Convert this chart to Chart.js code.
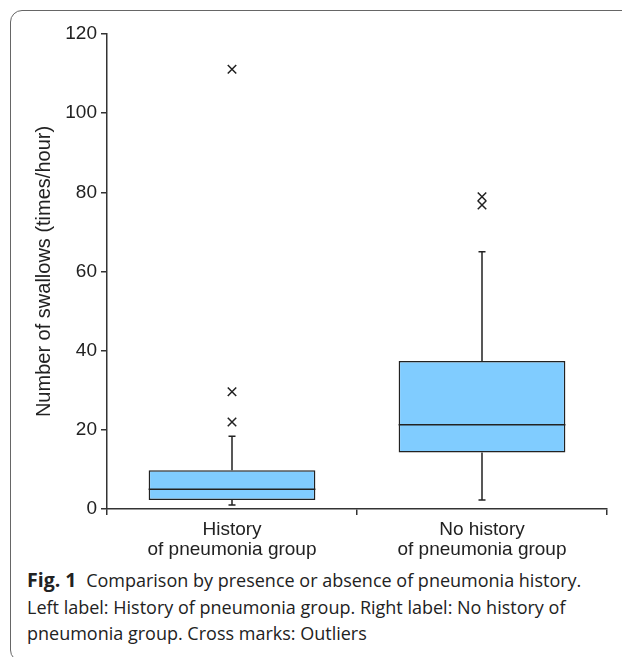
<!DOCTYPE html>
<html>
<head>
<meta charset="utf-8">
<script src="https://cdn.jsdelivr.net/npm/chart.js@4.4.1/dist/chart.umd.min.js"></script>
<style>
  html, body { margin: 0; padding: 0; background: #fff; overflow: hidden; }
  #wrap { position: relative; width: 622px; height: 657px; overflow: hidden; }
  #frame {
    position: absolute; left: 10px; top: 10px; width: 660px; height: 652px;
    border: 1.5px solid #666; border-radius: 12px; box-sizing: border-box;
  }
  #chart { position: absolute; left: 0; top: 0; }
  #caption {
    position: absolute; left: 27px; top: 567px; white-space: nowrap;
    font-family: "Open Sans", sans-serif; font-size: 18px; line-height: 26.5px; color: #222;
  }
  #caption b { font-weight: 700; font-size: 19.5px; margin-right: 5px; }
</style>
</head>
<body>
<div id="wrap">
  <div id="frame"></div>
  <canvas id="chart" width="622" height="565"></canvas>
  <div id="caption"><b>Fig. 1</b> Comparison by presence or absence of pneumonia history.<br>Left label: History of pneumonia group. Right label: No history of<br>pneumonia group. Cross marks: Outliers</div>
</div>
<script>
/********** DATA **********/

const groupLabels = [['History', 'of pneumonia group'], ['No history', 'of pneumonia group']];
const q1Values = [2.3, 14.3];
const q3Values = [9.8, 37.4];
const medianValues = [5.0, 21.3];
const whiskerLow = [1.0, 2.3];
const whiskerHigh = [18.4, 65.0];
const outlierGroup = [0, 0, 0, 1, 1];
const outlierValues = [111.1, 29.6, 22.0, 78.9, 76.8];
const yTickStep = 20;
const yMin = 0;
const yMax = 120;

const axisFont = "'Liberation Sans', Arial, sans-serif";

/********** WHISKERS + MEDIAN **********/

const whiskerPlugin = {
    id: 'whiskers',
    afterDatasetsDraw(chart) {
        const ctx = chart.ctx;
        const x = chart.scales.x;
        const y = chart.scales.y;
        const meta = chart.getDatasetMeta(1); // the box (bar) dataset
        ctx.save();
        ctx.strokeStyle = '#222';
        ctx.lineWidth = 1.5;
        meta.data.forEach((bar, i) => {
            const cx = x.getPixelForValue(i);
            const half = bar.width / 2;
            const cap = 3.5;
            ctx.beginPath();
            // upper whisker
            ctx.moveTo(cx, y.getPixelForValue(q3Values[i]));
            ctx.lineTo(cx, y.getPixelForValue(whiskerHigh[i]));
            ctx.moveTo(cx - cap, y.getPixelForValue(whiskerHigh[i]));
            ctx.lineTo(cx + cap, y.getPixelForValue(whiskerHigh[i]));
            // lower whisker
            ctx.moveTo(cx, y.getPixelForValue(q1Values[i]));
            ctx.lineTo(cx, y.getPixelForValue(whiskerLow[i]));
            ctx.moveTo(cx - cap, y.getPixelForValue(whiskerLow[i]));
            ctx.lineTo(cx + cap, y.getPixelForValue(whiskerLow[i]));
            // median
            ctx.moveTo(cx - half, y.getPixelForValue(medianValues[i]));
            ctx.lineTo(cx + half, y.getPixelForValue(medianValues[i]));
            ctx.stroke();
        });
        ctx.restore();
    }
};

/********** CHART **********/

const ctx = document.getElementById('chart').getContext('2d');
const boxChart = new Chart(ctx, {
    data: {
        labels: groupLabels,
        datasets: [{
            type: 'scatter',
            order: 0,
            // same label reference so the category scale finds the right group
            data: outlierValues.map((v, i) => ({ x: groupLabels[outlierGroup[i]], y: v })),
            showLine: false,
            pointStyle: 'crossRot',
            pointRadius: 6,
            borderColor: '#222',
            borderWidth: 1.5
        }, {
            type: 'bar',
            order: 1,
            data: q1Values.map((v, i) => [v, q3Values[i]]),
            backgroundColor: '#80ccff',
            borderColor: '#222',
            borderWidth: 1.5,
            borderSkipped: false,
            barPercentage: 0.667,
            categoryPercentage: 1
        }]
    },
    options: {
        responsive: false,
        animation: false,
        layout: { padding: { top: 34, right: 15, left: 0, bottom: 0 } },
        plugins: { legend: { display: false }, tooltip: { enabled: false } },
        scales: {
            x: {
                type: 'category',
                offset: true,
                grid: { display: true, drawOnChartArea: false, offset: true, tickLength: 6, color: '#333', lineWidth: 1.5 },
                border: { color: '#333', width: 1.5 },
                ticks: {
                    color: '#222', padding: 5, maxRotation: 0,
                    font: { family: axisFont, size: 19, lineHeight: 1.05 }
                },
                afterFit(scale) { scale.height = 56; }
            },
            y: {
                type: 'linear',
                min: yMin,
                max: yMax,
                grid: { drawOnChartArea: false, tickLength: 6, color: '#333', lineWidth: 1.5 },
                border: { color: '#333', width: 1.5 },
                ticks: {
                    stepSize: yTickStep, color: '#222', padding: 4,
                    font: { family: axisFont, size: 19 }
                },
                title: {
                    display: true,
                    text: 'Number of swallows (times/hour)',
                    color: '#222',
                    padding: { top: 32, bottom: 0 },
                    font: { family: axisFont, size: 20, lineHeight: 1.2 }
                },
                afterFit(scale) { scale.width = 107; }
            }
        }
    },
    plugins: [whiskerPlugin]
});
</script>
</body>
</html>
